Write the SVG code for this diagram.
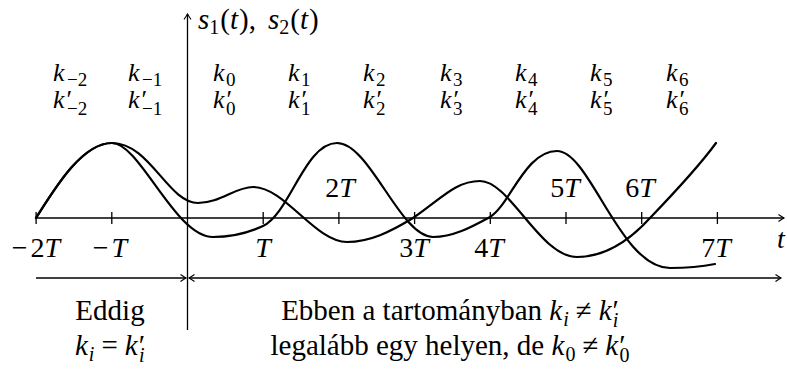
<svg xmlns="http://www.w3.org/2000/svg" width="787" height="372" viewBox="0 0 787 372">
<defs>
<marker id="ah" viewBox="-7 -5 9 10" refX="0" refY="0" markerWidth="9" markerHeight="10" markerUnits="userSpaceOnUse" orient="auto">
<path d="M-5.5,-3.5 Q-1.5,-0.8 0,0 Q-1.5,0.8 -5.5,3.5" fill="none" stroke="#000" stroke-width="1.1"/>
</marker>
</defs>
<g id="connectors" stroke="#000" stroke-width="1.3" fill="none">
<line x1="36" y1="218" x2="784" y2="218" marker-end="url(#ah)"/>
<line x1="187.5" y1="330" x2="187.5" y2="14" marker-end="url(#ah)"/>
<path d="M36.1,212V224M111.8,212V224M263.2,212V224M338.9,212V224M414.6,212V224M490.3,212V224M566,212V224M641.7,212V224M717.4,212V224"/>
<line x1="36" y1="278" x2="186" y2="278" marker-end="url(#ah)"/>
<line x1="480" y1="278" x2="189" y2="278" marker-end="url(#ah)"/>
<line x1="480" y1="278" x2="781" y2="278" marker-end="url(#ah)"/>
</g>
<path id="curve-s1" stroke="#000" stroke-width="2.2" fill="none" stroke-linecap="round" d="M36,218 C55,188 82,143 112,143 C140,143 175,237 213,237 C235,237 250,232 263,226 C290,213 305,143 337,143 C370,143 400,237 433,237 C455,237 475,225 490,217 C510,205 525,151 557,151 C590,151 620,268 670,268 C690,268 705,266 715,264"/>
<path id="curve-s2" stroke="#000" stroke-width="2.2" fill="none" stroke-linecap="round" d="M36,218 C55,188 82,143 112,143 C150,143 168,203 198,203 C220,203 235,187 253,187 C285,187 315,242 347,242 C370,242 390,232 413,218 C440,200 455,181 480,181 C510,181 540,257 577,257 C605,257 630,240 650,218 C675,192 700,165 716,143"/>
<text id="axis-label" x="198" y="29" font-family="Liberation Serif" font-size="29"><tspan font-style="italic">s</tspan><tspan dy="5" font-size="20">1</tspan><tspan dy="-5" dx="1">(</tspan><tspan font-style="italic">t</tspan><tspan dx="1">),</tspan><tspan dx="12" font-style="italic">s</tspan><tspan dy="5" font-size="20">2</tspan><tspan dy="-5" dx="1">(</tspan><tspan font-style="italic">t</tspan><tspan dx="1">)</tspan></text>
<text id="t-label" x="777" y="248" font-family="Liberation Serif" font-size="28" font-style="italic">t</text>
<text id="tick-m2" x="36" y="257" text-anchor="middle" font-family="Liberation Serif" font-size="28">−<tspan dx="3">2</tspan><tspan font-style="italic">T</tspan></text>
<text id="tick-m1" x="110" y="257" text-anchor="middle" font-family="Liberation Serif" font-size="28">−<tspan dx="3" font-style="italic">T</tspan></text>
<text id="tick-1" x="263" y="257" text-anchor="middle" font-family="Liberation Serif" font-size="28" font-style="italic">T</text>
<text id="tick-2" x="340" y="197" text-anchor="middle" font-family="Liberation Serif" font-size="28">2<tspan font-style="italic">T</tspan></text>
<text id="tick-3" x="414" y="257" text-anchor="middle" font-family="Liberation Serif" font-size="28">3<tspan font-style="italic">T</tspan></text>
<text id="tick-4" x="489" y="257" text-anchor="middle" font-family="Liberation Serif" font-size="28">4<tspan font-style="italic">T</tspan></text>
<text id="tick-5" x="565" y="197" text-anchor="middle" font-family="Liberation Serif" font-size="28">5<tspan font-style="italic">T</tspan></text>
<text id="tick-6" x="640" y="197" text-anchor="middle" font-family="Liberation Serif" font-size="28">6<tspan font-style="italic">T</tspan></text>
<text id="tick-7" x="716" y="257" text-anchor="middle" font-family="Liberation Serif" font-size="28">7<tspan font-style="italic">T</tspan></text>
<text id="k-m2" x="53" y="81" font-family="Liberation Serif" font-size="26"><tspan font-style="italic">k</tspan><tspan x="67" dy="5" font-size="19">−2</tspan></text>
<text id="k-m1" x="128" y="81" font-family="Liberation Serif" font-size="26"><tspan font-style="italic">k</tspan><tspan x="142" dy="5" font-size="19">−1</tspan></text>
<text id="k-0" x="213" y="81" font-family="Liberation Serif" font-size="26"><tspan font-style="italic">k</tspan><tspan x="226" dy="5" font-size="19">0</tspan></text>
<text id="k-1" x="288" y="81" font-family="Liberation Serif" font-size="26"><tspan font-style="italic">k</tspan><tspan x="301" dy="5" font-size="19">1</tspan></text>
<text id="k-2" x="363" y="81" font-family="Liberation Serif" font-size="26"><tspan font-style="italic">k</tspan><tspan x="376" dy="5" font-size="19">2</tspan></text>
<text id="k-3" x="440" y="81" font-family="Liberation Serif" font-size="26"><tspan font-style="italic">k</tspan><tspan x="453" dy="5" font-size="19">3</tspan></text>
<text id="k-4" x="515" y="81" font-family="Liberation Serif" font-size="26"><tspan font-style="italic">k</tspan><tspan x="528" dy="5" font-size="19">4</tspan></text>
<text id="k-5" x="590" y="81" font-family="Liberation Serif" font-size="26"><tspan font-style="italic">k</tspan><tspan x="603" dy="5" font-size="19">5</tspan></text>
<text id="k-6" x="666" y="81" font-family="Liberation Serif" font-size="26"><tspan font-style="italic">k</tspan><tspan x="679" dy="5" font-size="19">6</tspan></text>
<text id="kp-m2" x="53" y="108" font-family="Liberation Serif" font-size="26"><tspan font-style="italic">k</tspan><tspan dx="2">′</tspan><tspan x="67" dy="7" font-size="19">−2</tspan></text>
<text id="kp-m1" x="128" y="108" font-family="Liberation Serif" font-size="26"><tspan font-style="italic">k</tspan><tspan dx="2">′</tspan><tspan x="142" dy="7" font-size="19">−1</tspan></text>
<text id="kp-0" x="213" y="108" font-family="Liberation Serif" font-size="26"><tspan font-style="italic">k</tspan><tspan dx="2">′</tspan><tspan x="226" dy="7" font-size="19">0</tspan></text>
<text id="kp-1" x="288" y="108" font-family="Liberation Serif" font-size="26"><tspan font-style="italic">k</tspan><tspan dx="2">′</tspan><tspan x="301" dy="7" font-size="19">1</tspan></text>
<text id="kp-2" x="363" y="108" font-family="Liberation Serif" font-size="26"><tspan font-style="italic">k</tspan><tspan dx="2">′</tspan><tspan x="376" dy="7" font-size="19">2</tspan></text>
<text id="kp-3" x="440" y="108" font-family="Liberation Serif" font-size="26"><tspan font-style="italic">k</tspan><tspan dx="2">′</tspan><tspan x="453" dy="7" font-size="19">3</tspan></text>
<text id="kp-4" x="515" y="108" font-family="Liberation Serif" font-size="26"><tspan font-style="italic">k</tspan><tspan dx="2">′</tspan><tspan x="528" dy="7" font-size="19">4</tspan></text>
<text id="kp-5" x="590" y="108" font-family="Liberation Serif" font-size="26"><tspan font-style="italic">k</tspan><tspan dx="2">′</tspan><tspan x="603" dy="7" font-size="19">5</tspan></text>
<text id="kp-6" x="666" y="108" font-family="Liberation Serif" font-size="26"><tspan font-style="italic">k</tspan><tspan dx="2">′</tspan><tspan x="679" dy="7" font-size="19">6</tspan></text>
<text id="note-left-1" x="110" y="320" text-anchor="middle" font-family="Liberation Serif" font-size="29">Eddig</text>
<text id="note-left-2" x="110" y="355" text-anchor="middle" font-family="Liberation Serif" font-size="29"><tspan font-style="italic">k</tspan><tspan font-style="italic" dy="6" dx="1" font-size="20">i</tspan><tspan dy="-6" dx="7">=</tspan><tspan dx="7" font-style="italic">k</tspan><tspan dx="1">′</tspan><tspan font-style="italic" dx="-6" dy="7" font-size="20">i</tspan></text>
<text id="note-right-1" x="450" y="320" text-anchor="middle" font-family="Liberation Serif" font-size="29">Ebben a tartományban <tspan font-style="italic">k</tspan><tspan font-style="italic" dy="6" dx="1" font-size="20">i</tspan><tspan dy="-6" dx="7">≠</tspan><tspan dx="7" font-style="italic">k</tspan><tspan dx="1">′</tspan><tspan font-style="italic" dx="-6" dy="7" font-size="20">i</tspan></text>
<text id="note-right-2" x="450" y="355" text-anchor="middle" font-family="Liberation Serif" font-size="29">legalább egy helyen, de <tspan font-style="italic">k</tspan><tspan dy="6" dx="1" font-size="20">0</tspan><tspan dy="-6" dx="7">≠</tspan><tspan dx="7" font-style="italic">k</tspan><tspan dx="1">′</tspan><tspan dx="-6" dy="7" font-size="20">0</tspan></text>
</svg>
